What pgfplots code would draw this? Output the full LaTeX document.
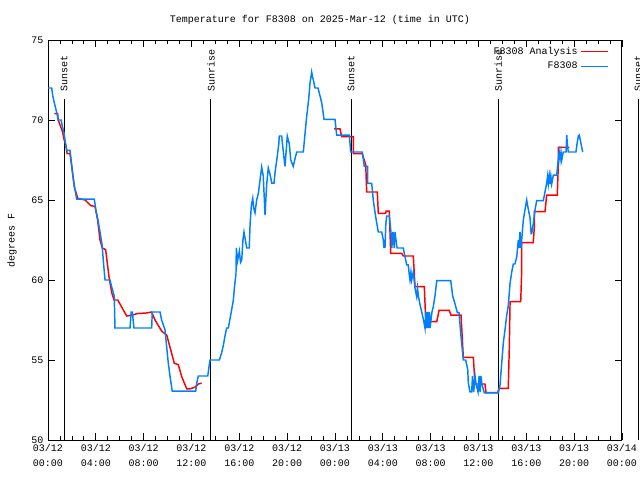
\documentclass[border=0pt]{standalone}
\usepackage{pgfplots}
\pgfplotsset{compat=1.18}
\usepackage{fontspec}
\setmainfont{Liberation Mono}
\definecolor{obsblue}{RGB}{0,128,255}
\definecolor{anared}{RGB}{255,0,0}
\begin{document}
\begin{tikzpicture}[font=\fontsize{7.5}{9}\selectfont]
\path[use as bounding box] (-36pt,-30pt) rectangle (444pt,330pt);
\begin{axis}[
  scale only axis,
  width=430.5pt, height=300pt,
  xmin=0, xmax=48, ymin=50, ymax=75,
  clip=false,
  axis line style={line width=0.75pt},
  xtick={0,4,...,48},
  xticklabels={{03/12\\00:00},{03/12\\04:00},{03/12\\08:00},{03/12\\12:00},{03/12\\16:00},{03/12\\20:00},{03/13\\00:00},{03/13\\04:00},{03/13\\08:00},{03/13\\12:00},{03/13\\16:00},{03/13\\20:00},{03/14\\00:00}},
  xticklabel style={align=center, font=\fontsize{7.5}{11}\selectfont},
  minor x tick num=3,
  ytick={50,55,...,75},
  minor y tick num=0,
  /pgf/number format/assume math mode=true,
  tick style={black, line width=0.6pt},
  major tick length=5pt,
  minor tick length=3pt,
  legend style={draw=none, fill=none, at={(1,1)}, anchor=north east, xshift=-7pt, yshift=-1pt, row sep=0.5pt, font=\fontsize{7.5}{9}\selectfont},
  legend cell align=right,
  legend plot pos=right,
  legend image code/.code={\draw[#1] (0cm,0cm) -- (0.7cm,0cm);},
]
% vertical sunrise/sunset lines
\addplot[forget plot, black, line width=0.75pt] coordinates {(1.34,50) (1.34,71.3)};
\addplot[forget plot, black, line width=0.75pt] coordinates {(13.63,50) (13.63,71.3)};
\addplot[forget plot, black, line width=0.75pt] coordinates {(25.34,50) (25.34,71.3)};
\addplot[forget plot, black, line width=0.75pt] coordinates {(37.66,50) (37.66,71.3)};
\addplot[forget plot, black, line width=0.75pt] coordinates {(49.34,50) (49.34,71.3)};
\node[rotate=90, anchor=west, inner sep=0pt] at (axis cs:1.34,71.75) {Sunset};
\node[rotate=90, anchor=west, inner sep=0pt] at (axis cs:13.63,71.75) {Sunrise};
\node[rotate=90, anchor=west, inner sep=0pt] at (axis cs:25.34,71.75) {Sunset};
\node[rotate=90, anchor=west, inner sep=0pt] at (axis cs:37.66,71.75) {Sunrise};
\node[rotate=90, anchor=west, inner sep=0pt] at (axis cs:49.34,71.75) {Sunset};

% Analysis (red)
\addplot[anared, line width=1.1pt, unbounded coords=jump] coordinates {
(0.53,70.4) (0.81,70.4) (0.85,70.0) (1.0,69.7) (1.2,69.3) (1.34,68.8) (1.5,68.4) (1.6,67.9)
(1.84,67.9) (2.01,67.0) (2.2,65.8) (2.5,65.1) (3.1,65.0) (3.37,64.8) (3.57,64.65) (3.93,64.6)
(4.15,63.75) (4.35,62.5) (4.54,62.0) (4.82,61.9) (5.1,60.2) (5.33,59.2) (5.52,58.75) (5.83,58.75)
(6.58,57.75) (7.05,57.8) (7.44,57.9) (8.25,57.94) (8.67,58.0) (8.95,57.5) (9.51,56.8) (9.93,56.56)
(10.2,55.8) (10.56,54.8) (10.9,54.7) (11.18,53.96) (11.6,53.2) (11.88,53.2) (12.29,53.3) (12.57,53.5) (12.85,53.55)
(18,nan)
(23.92,69.44) (24.42,69.44) (24.56,68.96) (25.53,68.96) (25.53,67.9) (26.28,67.9) (26.57,67.2) (26.65,65.5)
(27.54,65.5) (27.62,64.17) (28.24,64.17) (28.27,64.3) (28.54,64.3) (28.66,61.67) (29.58,61.67) (29.71,61.5)
(30.55,61.5) (30.69,59.58) (31.47,59.58) (31.59,57.4) (32.51,57.4) (32.70,58.1) (33.56,58.1) (33.70,57.8)
(34.54,57.8) (34.73,55.17) (35.57,55.17) (35.71,53.5) (36.54,53.5) (36.63,52.96) (37.61,52.96) (37.71,53.23)
(38.49,53.23) (38.58,55.9) (38.64,58.65) (39.53,58.65) (39.61,60.52) (39.61,62.33) (40.58,62.33) (40.67,63.33)
(40.67,64.27) (41.56,64.27) (41.70,65.3) (42.59,65.3) (42.67,67.08) (42.67,68.29) (43.60,68.29)
};
\addlegendentry{F8308 Analysis}

% Observations (blue)
\addplot[obsblue, line width=1.1pt] coordinates {
(0,72) (0.31,72) (0.4,71.5) (0.55,71) (0.75,70.4) (0.85,70) (1.1,70) (1.2,69.6) (1.34,69.2) (1.45,68.6)
(1.56,68.1) (1.84,68.1) (1.9,67.7) (2.0,67.0) (2.1,66.4) (2.25,65.7) (2.4,65.05) (3.87,65.05) (4.0,64.4)
(4.18,63.75) (4.35,63.0) (4.52,62.2) (4.65,61.0) (4.77,60) (5.18,60) (5.35,59.5) (5.54,59) (5.6,57)
(6.86,57) (6.95,58) (7.05,58) (7.19,57) (8.67,57) (8.72,58) (9.37,58) (9.5,57.5) (9.78,56.9) (9.9,56)
(10.06,54.8) (10.2,54) (10.39,53.05) (12.35,53.05) (12.45,53.6) (12.57,54) (13.36,54) (13.45,54.5)
(13.55,55) (14.33,55) (14.5,55.4) (14.66,55.9) (14.8,56.5) (14.94,57) (15.08,57) (15.3,57.9) (15.5,58.75)
(15.6,59.6) (15.72,60.4) (15.75,62.0) (15.85,61.2) (16.0,61.8) (16.1,61.1) (16.2,61.25) (16.3,62.5)
(16.39,63) (16.5,62.5) (16.62,62) (16.83,62) (16.9,63.5) (17.0,64.6) (17.12,65.1) (17.2,64.5) (17.31,64.2)
(17.45,65.0) (17.59,65.4) (17.73,66.25) (17.87,67.06) (18.0,66.5) (18.15,64.06) (18.29,66) (18.42,67)
(18.57,66.6) (18.71,66.06) (18.9,66.06) (19.0,66.8) (19.13,67.5) (19.3,68.5) (19.34,69) (19.54,69)
(19.68,68) (19.82,67.1) (20.01,69) (20.18,68.5) (20.30,67.5) (20.51,67.1) (20.66,67.6) (20.80,68.0)
(21.35,68.0) (21.5,69.2) (21.63,70.2) (21.8,71.3) (21.91,72.3) (22.05,73.0) (22.12,72.7) (22.19,72.5)
(22.33,72.0) (22.58,72.0) (22.75,71.5) (22.89,71.06) (23.0,70.5) (23.08,70.04) (24.0,70.04) (24.14,69.06)
(25.2,69.06) (25.31,68.0) (26.28,68.0) (26.45,67.1) (26.74,67.1) (26.74,66.04) (27.07,66.04) (27.2,65)
(27.4,63.96) (27.62,63.0) (27.91,63.0) (28.04,62.5) (28.1,62.0) (28.15,62.5) (28.18,62.0) (28.25,63.5)
(28.32,64.0) (28.54,64.0) (28.68,63.0) (28.75,62.0) (28.85,63.0) (28.95,62.0) (29.02,63.0) (29.1,62.5)
(29.19,62) (29.71,62) (29.85,61.46) (30.0,60.94) (30.13,60.94) (30.2,60.4) (30.27,60) (30.35,60.5)
(30.41,60) (30.55,60.5) (30.69,59.5) (30.83,58.96) (30.9,59.5) (30.97,59) (31.1,58.5) (31.25,58.0)
(31.4,57.5) (31.53,56.98) (31.6,58) (31.67,57) (31.75,58) (31.8,57) (31.9,58) (31.95,57) (32.11,58.0)
(32.22,58.33) (32.36,59) (32.51,59.96) (33.68,59.96) (33.84,59) (34.04,58.5) (34.23,57.96) (34.37,57.96)
(34.54,56.46) (34.73,55.0) (34.93,55.0) (35.10,54.4) (35.15,53.56) (35.29,53.0) (35.43,53.0) (35.5,54.0)
(35.6,53.0) (35.71,54.0) (35.8,53.5) (35.96,53.0) (36.05,54.0) (36.13,53.0) (36.2,54.0) (36.29,53.5)
(36.46,53.0) (36.5,52.94) (37.66,52.94) (37.8,53.44) (37.94,54.8) (38.08,56.1) (38.22,56.9) (38.36,57.8)
(38.49,58.4) (38.64,59.8) (38.78,60.5) (38.91,61.0) (39.05,61.0) (39.20,61.46) (39.33,62.5) (39.40,62.0)
(39.47,63.0) (39.55,62.0) (39.61,62.5) (39.75,63.75) (39.89,64.4) (40.03,65) (40.17,64.4) (40.31,63.9)
(40.40,62.9) (40.45,62.9) (40.58,63.5) (40.73,64.4) (40.87,64.96) (41.42,64.96) (41.56,65.5) (41.70,66.04)
(41.78,66.5) (41.84,66.0) (41.92,66.5) (41.98,66.0) (42.05,66.5) (42.12,66.0) (42.26,66.56) (42.54,66.56)
(42.67,67.5) (42.75,68.0) (42.82,67.5) (42.9,68.0) (42.96,67.5) (43.09,68.0) (43.32,68.0) (43.38,69.06)
(43.43,68.5) (43.51,68.0) (44.15,68.0) (44.26,68.6) (44.35,69.0) (44.43,69.06) (44.55,68.6) (44.63,68.3) (44.71,68.0)
};
\addlegendentry{F8308}
\end{axis}
\node at (204pt,315pt) {Temperature for F8308 on 2025-Mar-12 (time in UTC)};
\node[rotate=90] at (-27pt,150pt) {degrees F};
\end{tikzpicture}
\end{document}
